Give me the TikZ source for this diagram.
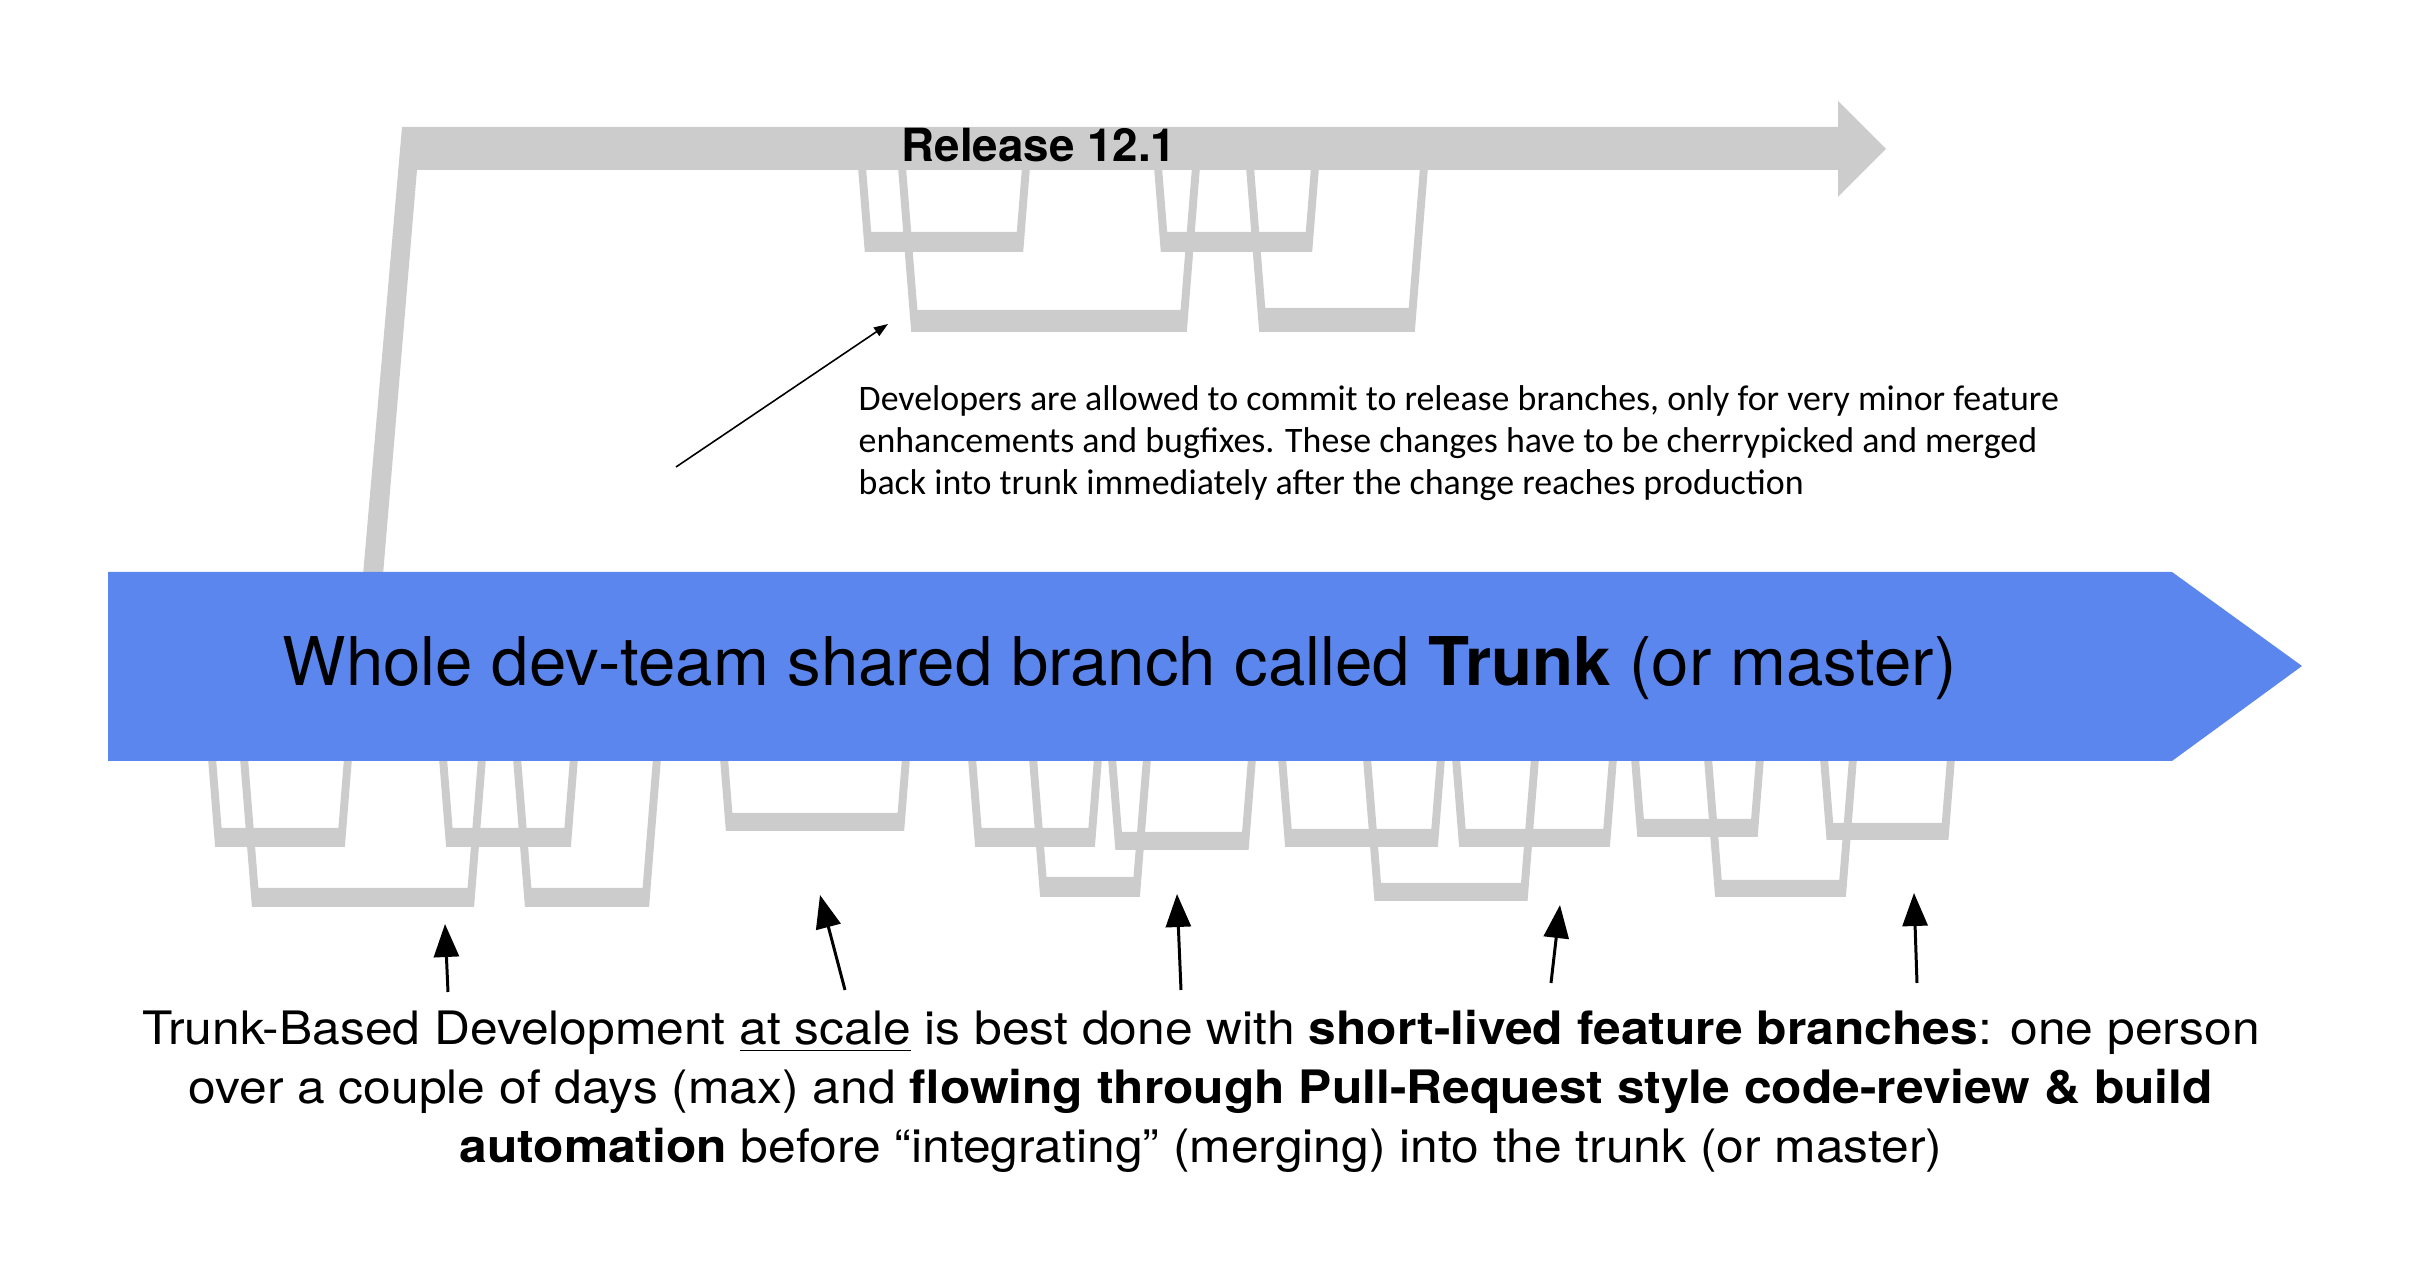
\documentclass[tikz,border=0pt]{standalone}
\usepackage{fontspec}
\setmainfont{TeX Gyre Heros}
\newfontfamily\calibfont{Carlito}
\newfontfamily\capfont[FakeStretch=1.08]{TeX Gyre Heros}
\usetikzlibrary{arrows.meta}
\definecolor{trunkblue}{RGB}{91,134,238}
\definecolor{relgray}{RGB}{204,204,204}
% short-lived branch: top y, left x, right x, bar top y, bar bottom y
\newcommand{\brU}[5]{%
  \fill[relgray] (#2-4,#1) -- ({#2-4+0.08*(#5-#1)},#5) -- ({#3+4-0.08*(#5-#1)},#5)
    -- (#3+4,#1) -- (#3-4,#1) -- ({#3-4-0.08*(#4-#1)},#4)
    -- ({#2+4+0.08*(#4-#1)},#4) -- (#2+4,#1) -- cycle;}

\begin{document}
\begin{tikzpicture}[x=0.01cm, y=-0.01cm, inner sep=0pt]
    \useasboundingbox (0,0) rectangle (2420,1274);

    % release branch
    \fill[relgray] (402,127) -- (1838,127) -- (1838,101) -- (1886,149) -- (1838,197)
      -- (1838,170) -- (417,170) -- (383,575) -- (363,575) -- cycle;
    \brU{167}{862}{1026}{232}{252}
    \brU{167}{902}{1196}{310}{332}
    \brU{167}{1158}{1315}{232}{252}
    \brU{167}{1250}{1424}{308}{332}

    % feature branches under trunk
    \brU{758}{212}{348}{828}{847}
    \brU{758}{244}{482}{888}{907}
    \brU{758}{443}{574}{828}{847}
    \brU{758}{517}{657}{888}{907}
    \brU{758}{724}{906}{813}{831}
    \brU{758}{972}{1098}{828}{847}
    \brU{758}{1033}{1147}{877}{897}
    \brU{758}{1112}{1252}{832}{850}
    \brU{758}{1282}{1441}{829}{847}
    \brU{758}{1367}{1535}{883}{901}
    \brU{758}{1456}{1613}{829}{847}
    \brU{758}{1635}{1760}{819}{837}
    \brU{758}{1708}{1853}{880}{897}
    \brU{758}{1824}{1951}{823}{840}

    % trunk
    \fill[trunkblue] (108,572) -- (2172,572) -- (2302,666) -- (2172,761) -- (108,761) -- cycle;

    \node[anchor=base west, font=\fontsize{19.1}{22}\selectfont] (trunk) at (282,686)
      {Whole dev-team shared branch called \textbf{Trunk} (or master)};
    \node[anchor=base west, font=\bfseries\fontsize{13}{15}\selectfont] (rel) at (901,162) {Release 12.1};

    % multi-line nodes: base is the last line
    \node[anchor=base west, align=left, font=\calibfont\fontsize{10.2}{12}\selectfont] (note) at (858,495)
      {Developers are allowed to commit to release branches, only for very minor feature\\
       enhancements and bugfixes. These changes have to be cherrypicked and merged\\
       back into trunk immediately after the change reaches production};

    \node[anchor=base, align=center, font=\capfont\fontsize{13.1}{16.8}\selectfont] (caption) at (1201,1163)
      {Trunk-Based Development \underline{at scale} is best done with \textbf{short-lived feature branches}: one person\\
       over a couple of days (max) and \textbf{flowing through Pull-Request style code-review \& build}\\
       \textbf{automation} before “integrating” (merging) into the trunk (or master)};

    % pointers
    \coordinate (nt) at (676,467);
    \coordinate (nh) at (888,324);
    \draw[>={Triangle[length=1.4mm,width=1mm]}, ->, line width=0.45pt] (nt) -- (nh);

    \coordinate (t1) at (448,992);  \coordinate (h1) at (445,924);
    \coordinate (t2) at (845,990);  \coordinate (h2) at (820,895);
    \coordinate (t3) at (1181,990); \coordinate (h3) at (1177,894);
    \coordinate (t4) at (1551,983); \coordinate (h4) at (1560,905);
    \coordinate (t5) at (1917,983); \coordinate (h5) at (1914,893);
    \foreach \i in {1,...,5}
      \draw[>={Triangle[length=3.3mm,width=2.5mm]}, ->, line width=0.85pt] (t\i) -- (h\i);
\end{tikzpicture}
\end{document}
